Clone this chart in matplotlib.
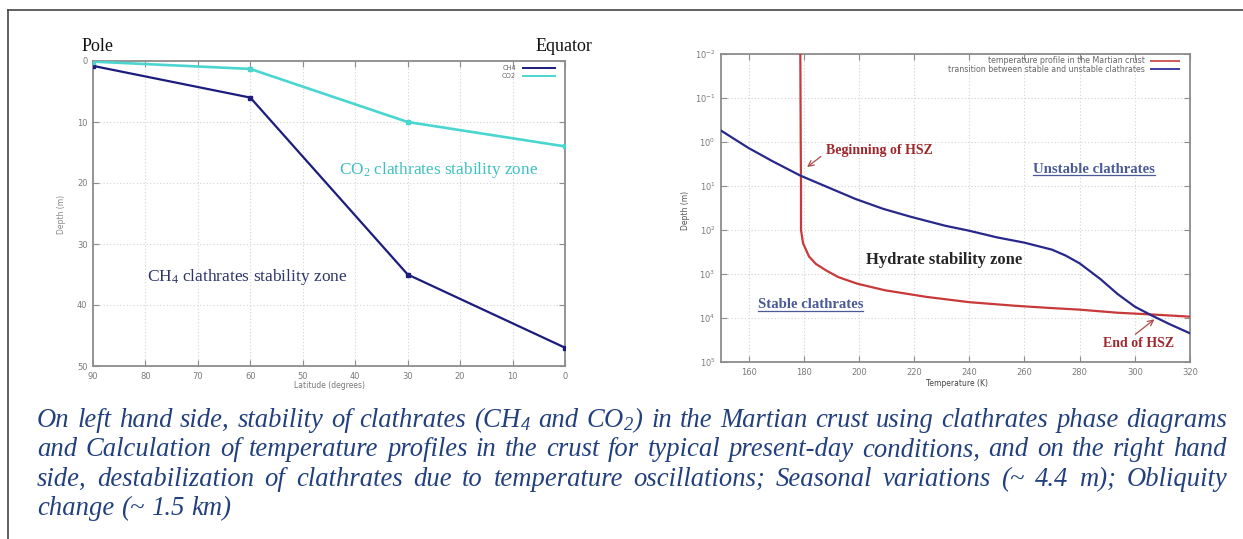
import matplotlib
matplotlib.use("Agg")
import matplotlib.pyplot as plt
from matplotlib.lines import Line2D

plt.rcParams["mathtext.default"] = "regular"

# ---- left panel: clathrate stability depth vs latitude ----
latitude = [90, 60, 30, 0]
ch4_depth = [0.8, 6.0, 35.0, 47.0]
co2_depth = [0.1, 1.3, 10.0, 14.0]
lat_ticks = [90, 80, 70, 60, 50, 40, 30, 20, 10, 0]
depth_ticks = [0, 10, 20, 30, 40, 50]

# ---- right panel: temperature profile and stability boundary ----
profile_T = [178.75, 178.9, 179.0, 179.0, 179.75, 181.9, 184.4, 188.1, 192.5,
             199.4, 209.4, 224.4, 240.0, 256.25, 268.75, 280.0, 293.75, 306.25, 320.0]
profile_depth = [0.01, 1.0, 10.0, 100.0, 200.0, 400.0, 590.0, 830.0, 1175.0,
                 1660.0, 2340.0, 3310.0, 4370.0, 5250.0, 5890.0, 6460.0, 7590.0, 8320.0, 9330.0]
boundary_T = [150.0, 160.0, 168.75, 178.75, 188.75, 198.75, 208.75, 218.75, 231.25, 240.0,
              250.0, 260.0, 270.0, 275.0, 280.0, 287.5, 293.75, 300.0, 306.25, 312.5, 320.0]
boundary_depth = [0.55, 1.37, 2.75, 5.8, 10.7, 19.7, 33.0, 50.0, 80.0, 104.0,
                  147.0, 194.0, 280.0, 383.0, 573.0, 1300.0, 2850.0, 5520.0, 8850.0, 13700.0, 22300.0]
temp_ticks = [160, 180, 200, 220, 240, 260, 280, 300, 320]
log_depth_ticks = [1e-2, 1e-1, 1e0, 1e1, 1e2, 1e3, 1e4, 1e5]
log_depth_labels = ["$10^{-2}$", "$10^{-1}$", "$10^{0}$", "$10^{1}$",
                    "$10^{2}$", "$10^{3}$", "$10^{4}$", "$10^{5}$"]

caption_lines = [
    "On left hand side, stability of clathrates (CH$_4$ and CO$_2$) in the Martian crust using clathrates phase diagrams",
    "and Calculation of temperature profiles in the crust for typical present-day conditions, and on the right hand",
    "side, destabilization of clathrates due to temperature oscillations; Seasonal variations (~ 4.4 m); Obliquity",
    "change (~ 1.5 km)",
]

W, H = 1243, 539
fig = plt.figure(figsize=(W / 100, H / 100), dpi=100)
fig.patch.set_facecolor("white")


def fx(px):
    return px / W


def fy(py):
    return 1 - py / H


SERIF = ["Liberation Serif", "DejaVu Serif"]
SPINE = "#8c8c8c"
TICKLAB = "#7a7a7a"
GRID = "#d2d2d2"


def style_axes(ax):
    for s in ax.spines.values():
        s.set_color(SPINE)
        s.set_linewidth(1.3)
    ax.tick_params(which="both", direction="in", top=True, right=True,
                   length=4, width=0.8, color=SPINE, labelcolor=TICKLAB,
                   labelsize=6, pad=4)
    ax.tick_params(which="minor", length=0)
    ax.grid(True, ls=(0, (1, 2)), color=GRID, lw=0.8)
    ax.set_axisbelow(True)


# outer frame
fig.add_artist(Line2D([fx(8), fx(8)], [fy(10), 0], color="#444444", lw=1.2))
fig.add_artist(Line2D([fx(8), 1], [fy(10), fy(10)], color="#444444", lw=1.2))

# ---------------- left panel ----------------
ax1 = fig.add_axes([fx(93), fy(366), fx(565) - fx(93), fy(61) - fy(366)])
style_axes(ax1)
ax1.plot(latitude, ch4_depth, color="#1c1c7c", lw=1.6, marker="s", ms=3.2, zorder=3)
ax1.plot(latitude, co2_depth, color="#4ad6d0", lw=1.9, marker="s", ms=3.2, zorder=3)
ax1.set_xlim(90, 0)
ax1.set_ylim(50, 0)
ax1.set_xticks(lat_ticks)
ax1.set_yticks(depth_ticks)

fig.text(fx(82), fy(51), "Pole", fontsize=13, family=SERIF,
         ha="left", va="baseline", color="#111111")
fig.text(fx(592), fy(51), "Equator", fontsize=13, family=SERIF,
         ha="right", va="baseline", color="#111111")
ax1.text(43, 17.9, "CO$_2$ clathrates stability zone", fontsize=12.4,
         family=SERIF, ha="left", va="center", color="#3fc0c0")
ax1.text(79.7, 35.4, "CH$_4$ clathrates stability zone", fontsize=12.5,
         family=SERIF, ha="left", va="center", color="#2c3668")

# legend (gnuplot style: label then sample)
fig.text(fx(516), fy(67.7), "CH4", fontsize=4.8, color="#666666", ha="right", va="center")
fig.add_artist(Line2D([fx(523), fx(555)], [fy(67.7), fy(67.7)], color="#1c1c7c", lw=1.4))
fig.text(fx(516), fy(75.7), "CO2", fontsize=4.8, color="#666666", ha="right", va="center")
fig.add_artist(Line2D([fx(523), fx(555)], [fy(75.7), fy(75.7)], color="#4ad6d0", lw=1.4))

fig.text(fx(62), fy(214), "Depth (m)", fontsize=5.5, color="#888888",
         rotation=90, ha="center", va="center")
fig.text(fx(329), fy(385), "Latitude (degrees)", fontsize=5.5, color="#777777",
         ha="center", va="center")

# ---------------- right panel ----------------
ax2 = fig.add_axes([fx(721), fy(362), fx(1190) - fx(721), fy(54) - fy(362)])
style_axes(ax2)
ax2.set_yscale("log")
ax2.plot(profile_T, profile_depth, color="#c8393a", lw=1.6, zorder=3)
ax2.plot(boundary_T, boundary_depth, color="#28288a", lw=1.6, zorder=3)
ax2.set_xlim(150, 320)
ax2.set_ylim(1e5, 1e-2)
ax2.set_xticks(temp_ticks)
ax2.set_yticks(log_depth_ticks)
ax2.set_yticklabels(log_depth_labels)
ax2.minorticks_off()

RED_TXT = "#a0282c"
BLUE_TXT = "#4a5a96"

ax2.text(188.0, 1.6, "Beginning of HSZ", fontsize=10, family=SERIF,
         weight="bold", color=RED_TXT, ha="left", va="center")
ax2.annotate("", xy=(181.2, 10 ** 0.57), xytext=(186.2, 10 ** 0.33),
             arrowprops=dict(arrowstyle="->", color="#b04a4a", lw=0.9,
                             shrinkA=0, shrinkB=0))
ax2.text(202.4, 485.0, "Hydrate stability zone", fontsize=12, family=SERIF,
         weight="bold", color="#262626", ha="left", va="center")
ax2.text(288.3, 10 ** 4.58, "End of HSZ", fontsize=10, family=SERIF,
         weight="bold", color=RED_TXT, ha="left", va="center")
ax2.annotate("", xy=(307.1, 10 ** 4.03), xytext=(300.2, 10 ** 4.37),
             arrowprops=dict(arrowstyle="->", color="#b04a4a", lw=0.9,
                             shrinkA=0, shrinkB=0))

renderer = fig.canvas.get_renderer()

underlined = [
    (263.1, 10 ** 0.70, "Unstable clathrates"),
    (163.4, 10 ** 3.78, "Stable clathrates"),
]
for tx, ty, s in underlined:
    t = ax2.text(tx, ty, s, fontsize=10.6, family=SERIF, weight="bold",
                 color=BLUE_TXT, ha="left", va="baseline")
    bb = t.get_window_extent(renderer)
    yb = ax2.transData.transform((tx, ty))[1] - 2.2
    fig.add_artist(Line2D([bb.x0 / W, bb.x1 / W], [yb / H, yb / H],
                          color=BLUE_TXT, lw=0.9))

# legend (gnuplot style)
fig.text(fx(1145), fy(60.7), "temperature profile in the Martian crust", fontsize=5.7,
         color="#666666", ha="right", va="center")
fig.add_artist(Line2D([fx(1151), fx(1179)], [fy(60.7), fy(60.7)], color="#d05a5a", lw=1.4))
fig.text(fx(1145), fy(69), "transition between stable and unstable clathrates", fontsize=5.7,
         color="#666666", ha="right", va="center")
fig.add_artist(Line2D([fx(1151), fx(1179)], [fy(69), fy(69)], color="#4040a0", lw=1.4))

fig.text(fx(685), fy(210), "Depth (m)", fontsize=5.5, color="#555555",
         rotation=90, ha="center", va="center")
fig.text(fx(957), fy(384), "Temperature (K)", fontsize=5.5, color="#444444",
         ha="center", va="center")

# ---------------- justified caption ----------------
CAP_FS = 19.2
CAP_COLOR = "#22407e"
cap_kw = dict(fontsize=CAP_FS, family="Liberation Serif", style="italic",
              color=CAP_COLOR, va="baseline", ha="left")


def measure(s):
    t = fig.text(0, 0, s, **cap_kw)
    w = t.get_window_extent(renderer).width
    t.remove()
    return w


space_w = measure("a a") - measure("aa")
x_left, x_right = 37.0, 1227.0
baselines = [427.0, 456.5, 486.0, 515.0]
for i, (line, yb) in enumerate(zip(caption_lines, baselines)):
    words = line.split(" ")
    objs = [fig.text(0, fy(yb), w, **cap_kw) for w in words]
    widths = [o.get_window_extent(renderer).width for o in objs]
    last = i == len(caption_lines) - 1
    if not last and len(words) > 1:
        gap = (x_right - x_left - sum(widths)) / (len(words) - 1)
    else:
        gap = space_w
    x = x_left
    for o, w in zip(objs, widths):
        o.set_x(fx(x))
        x += w + gap

fig.savefig("out.png", dpi=100)
